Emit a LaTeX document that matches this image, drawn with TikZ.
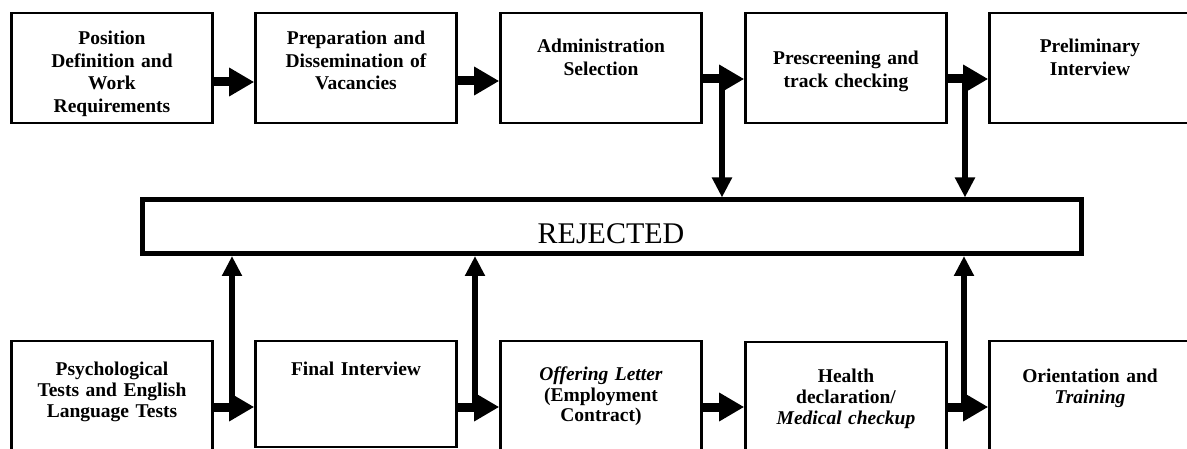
\documentclass[tikz,border=0pt]{standalone}
\usepackage{fontspec}
\setmainfont{Liberation Serif}[WordSpace=0.6]
\usetikzlibrary{arrows.meta}
\begin{document}
\begin{tikzpicture}[x=1pt,y=-1pt,
  box/.style={draw, line width=2.6pt, minimum width=201pt, inner sep=0pt},
  topbox/.style={box, minimum height=110pt},
  botbox/.style={box, minimum height=112pt},
  lbl/.style={font=\bfseries\fontsize{19.5}{22.5}\selectfont, text width=198pt, align=center, anchor=base, inner sep=0pt},
  lblb/.style={lbl, font=\bfseries\fontsize{19.5}{21}\selectfont},
  harrow/.style={line width=9pt, -{Triangle[length=25pt,width=27pt]}},
  varrow/.style={line width=6pt, -{Triangle[length=20pt,width=19pt]}},
  rejbox/.style={draw, line width=5pt, minimum width=939pt, minimum height=53.5pt, inner sep=0pt}
]
\useasboundingbox (0,0) rectangle (1187,449);
\fill[white] (0,0) rectangle (1187,449);

% top row
\node[topbox] (b1) at (112,68) {};
\node[topbox] (b2) at (356,68) {};
\node[topbox] (b3) at (601,68) {};
\node[topbox] (b4) at (846,68) {};
\node[topbox] (b5) at (1090,68) {};
\node[lbl] (t1) at (112,45) {Position\\Definition and\\Work\\Requirements};
\node[lbl] (t2) at (356,45) {Preparation and\\Dissemination of\\Vacancies};
\node[lbl] (t3) at (601,53) {Administration\\Selection};
\node[lbl] (t4) at (846,65) {Prescreening and\\track checking};
\node[lbl] (t5) at (1090,53) {Preliminary\\Interview};

% rejected
\node[rejbox] (rej) at (611.5,226.75) {};
\node[font=\fontsize{30}{32}\selectfont, anchor=base, inner sep=0pt] (rejt) at (611,244) {REJECTED};

% bottom row
\node[botbox] (c1) at (112,397) {};
\node[box, minimum height=106pt] (c2) at (356,394) {};
\node[botbox] (c3) at (601,397) {};
\node[botbox] (c4) at (846,398) {};
\node[botbox] (c5) at (1090,397) {};
\node[lblb] (u1) at (112,375) {Psychological\\Tests and English\\Language Tests};
\node[lblb] (u2) at (356,375) {Final Interview};
\node[lblb] (u3) at (601,380) {\textit{Offering Letter}\\(Employment\\Contract)};
\node[lblb] (u4) at (846,382) {Health\\declaration/\\\textit{Medical checkup}};
\node[lblb] (u5) at (1090,382) {Orientation and\\\textit{Training}};

% top arrows
\coordinate (d1) at (722,79);
\coordinate (d2) at (965,79);
\draw[harrow] (b1.east |- 0,82) -- (b2.west |- 0,82);
\draw[harrow] (b2.east |- 0,81) -- (b3.west |- 0,81);
\draw[varrow] (d1) -- (d1 |- rej.north);
\draw[varrow] (d2) -- (d2 |- rej.north);
\draw[harrow] (b3.east |- 0,79) -- (b4.west |- 0,79);
\draw[harrow] (b4.east |- 0,79) -- (b5.west |- 0,79);

% bottom arrows
\coordinate (e1) at (232,407);
\coordinate (e2) at (475,407);
\coordinate (e3) at (964,407);
\draw[varrow] (e1) -- (e1 |- rej.south);
\draw[varrow] (e2) -- (e2 |- rej.south);
\draw[varrow] (e3) -- (e3 |- rej.south);
\draw[harrow] (c1.east |- e1) -- (c2.west |- e1);
\draw[harrow] (c2.east |- e2) -- (c3.west |- e2);
\draw[harrow] (c3.east |- e2) -- (c4.west |- e2);
\draw[harrow] (c4.east |- e3) -- (c5.west |- e3);
\end{tikzpicture}
\end{document}
